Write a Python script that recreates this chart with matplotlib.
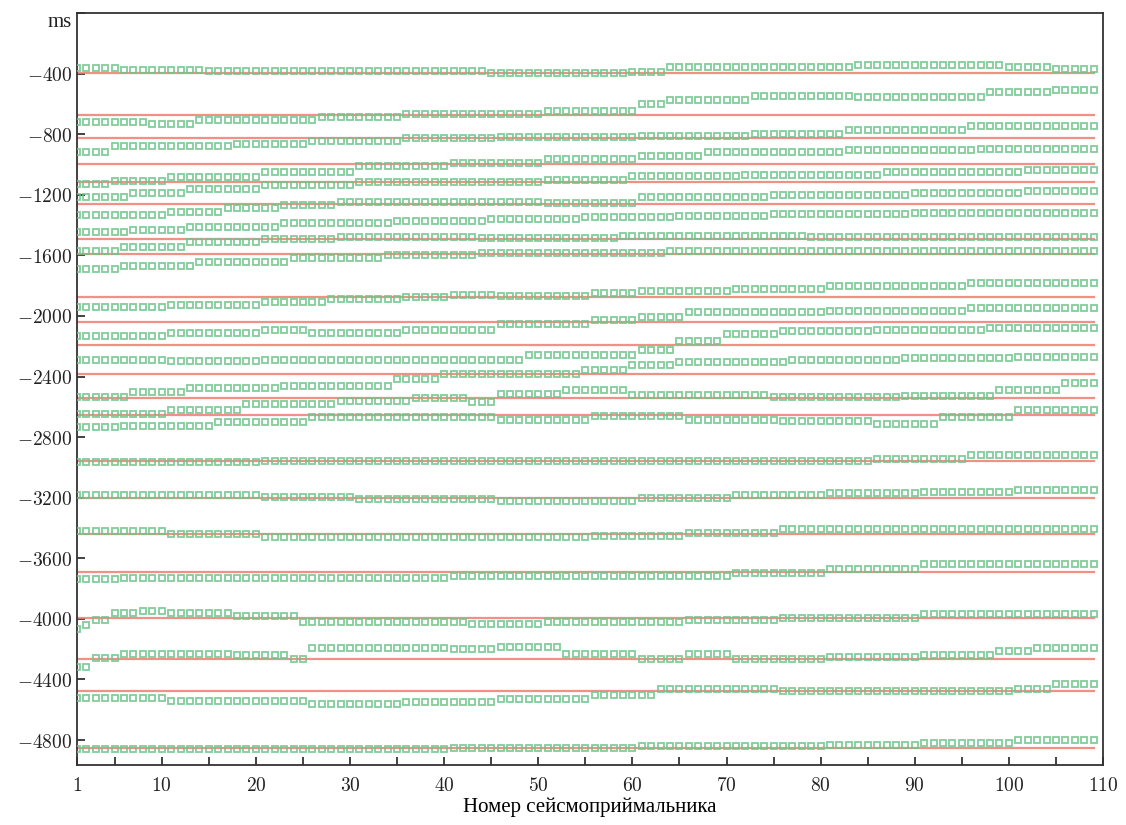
import matplotlib.pyplot as plt
import numpy as np

# horizontal reference levels (ms)
red_levels = [-395, -670, -822, -995, -1117, -1258, -1490, -1588, -1872, -2037, -2195,
              -2380, -2545, -2655, -2960, -3205, -3440, -3690, -3994, -4265, -4475, -4855]

# picked times, stored as runs: (number of receivers, time in ms)
g01 = [(5, -360), (9, -378), (30, -385), (15, -397), (4, -390), (20, -354), (10, -340), (6, -345), (5, -355), (5, -370)]
g02 = [(8, -721), (5, -730), (13, -704), (9, -684), (15, -665), (10, -649), (3, -600), (9, -572), (11, -545), (14, -552), (7, -523), (5, -505)]
g03 = [(4, -919), (13, -880), (8, -866), (10, -845), (10, -825), (15, -821), (12, -809), (10, -796), (13, -770), (14, -748)]
g04 = [(4, -1127), (6, -1110), (10, -1085), (10, -1050), (10, -1010), (10, -987), (10, -961), (7, -941), (15, -915), (14, -905), (13, -895)]
g05 = [(6, -1215), (6, -1190), (8, -1160), (10, -1135), (10, -1118), (10, -1118), (9, -1105), (12, -1075), (15, -1068), (15, -1047), (8, -1034)]
g06 = [(10, -1335), (6, -1315), (6, -1290), (6, -1265), (12, -1245), (10, -1245), (10, -1255), (14, -1212), (15, -1200), (12, -1185), (8, -1172)]
g07 = [(6, -1448), (6, -1435), (10, -1412), (12, -1385), (10, -1370), (10, -1357), (10, -1348), (10, -1337), (15, -1324), (20, -1320)]
g08 = [(5, -1568), (7, -1545), (8, -1515), (8, -1495), (15, -1480), (15, -1488), (20, -1470), (31, -1480)]
g09 = [(5, -1690), (8, -1670), (10, -1647), (10, -1620), (10, -1600), (20, -1585), (46, -1568)]
g10 = [(10, -1938), (10, -1925), (7, -1905), (8, -1889), (5, -1872), (5, -1862), (10, -1870), (5, -1851), (10, -1835), (10, -1820), (15, -1805), (14, -1785)]
g11 = [(10, -2130), (10, -2115), (5, -2095), (10, -2110), (10, -2090), (10, -2055), (5, -2030), (5, -2005), (15, -1975), (15, -1965), (14, -1950)]
g12 = [(10, -2290), (10, -2300), (10, -2290), (10, -2292), (8, -2294), (12, -2260), (4, -2225), (5, -2165), (6, -2120), (10, -2100), (12, -2090), (12, -2080)]
g13 = [(6, -2535), (6, -2500), (10, -2475), (12, -2460), (5, -2415), (15, -2382), (5, -2360), (5, -2327), (12, -2305), (12, -2290), (12, -2280), (9, -2270)]
g14 = [(10, -2645), (8, -2620), (10, -2580), (8, -2560), (6, -2540), (3, -2570), (7, -2513), (7, -2492), (15, -2522), (14, -2535), (10, -2530), (7, -2490), (4, -2440)]
g15 = [(5, -2735), (10, -2725), (10, -2700), (20, -2665), (10, -2688), (10, -2660), (10, -2690), (10, -2695), (7, -2715), (8, -2670), (9, -2620)]
g16 = [(20, -2962), (20, -2955), (25, -2955), (20, -2958), (10, -2945), (14, -2915)]
g17 = [(10, -3180), (10, -3185), (10, -3195), (15, -3210), (15, -3220), (10, -3205), (10, -3185), (10, -3170), (10, -3160), (9, -3150)]
g18 = [(10, -3420), (10, -3440), (20, -3458), (15, -3462), (10, -3450), (10, -3430), (34, -3405)]
g19 = [(5, -3740), (35, -3730), (30, -3720), (10, -3700), (10, -3670), (19, -3640)]
g20 = [(1, -4070), (1, -4040), (2, -4010), (3, -3960), (3, -3945), (7, -3960), (7, -3980), (18, -4020), (8, -4035), (15, -4020), (10, -4010), (15, -3995), (19, -3965)]
g21 = [(2, -4320), (3, -4260), (12, -4230), (6, -4240), (2, -4262), (15, -4195), (5, -4200), (7, -4185), (8, -4230), (5, -4265), (5, -4235), (10, -4265), (10, -4255), (8, -4240), (4, -4215), (7, -4190)]
g22 = [(10, -4520), (15, -4540), (10, -4560), (10, -4550), (10, -4530), (7, -4500), (13, -4465), (25, -4478), (4, -4465), (5, -4430)]
g23 = [(10, -4860), (30, -4858), (20, -4850), (20, -4840), (10, -4830), (10, -4818), (9, -4800)]

picks = [g01, g02, g03, g04, g05, g06, g07, g08, g09, g10, g11, g12,
         g13, g14, g15, g16, g17, g18, g19, g20, g21, g22, g23]

receivers = np.arange(1, 110)
xticks = [1, 10, 20, 30, 40, 50, 60, 70, 80, 90, 100, 110]
yticks = [0, -400, -800, -1200, -1600, -2000, -2400, -2800, -3200, -3600, -4000, -4400, -4800]

plt.rcParams['mathtext.fontset'] = 'cm'

fig = plt.figure(figsize=(11.26, 8.25), dpi=100)
ax = fig.add_axes([0.0684, 0.0727, 0.9112, 0.9115])

for lvl in red_levels:
    ax.plot([receivers[0], receivers[-1]], [lvl, lvl], color='#ef7d70', lw=1.6, alpha=0.85, zorder=2)

for runs in picks:
    counts = [c for c, v in runs]
    vals = [v for c, v in runs]
    t = np.repeat(vals, counts)
    ax.plot(receivers, t, ls='none', marker='s', ms=4.8, mfc='none',
            mec='#6cc48a', mew=1.3, alpha=0.85, zorder=3)

ax.set_xlim(1, 110)
ax.set_ylim(-4965, 0)
ax.set_xticks(xticks)
ax.set_xticks(range(5, 110, 10), minor=True)
ax.set_xticklabels(['$%d$' % v for v in xticks])
ax.set_yticks(yticks)
ax.set_yticklabels(['ms'] + ['$%d$' % v for v in yticks[1:]])
ax.tick_params(which='both', direction='in', length=6, width=1.2, labelsize=14, colors='#222222')
ax.tick_params(axis='x', pad=8)
ms_lab = ax.get_yticklabels()[0]
ms_lab.set_family('Liberation Serif')
ms_lab.set_fontsize(15)
ms_lab.set_va('top')
for s in ax.spines.values():
    s.set_linewidth(1.3)
    s.set_color('#333333')

ax.set_xlabel('Номер сейсмоприймальника', family='Liberation Serif', fontsize=15, labelpad=2)

fig.savefig('out.png', dpi=100)
